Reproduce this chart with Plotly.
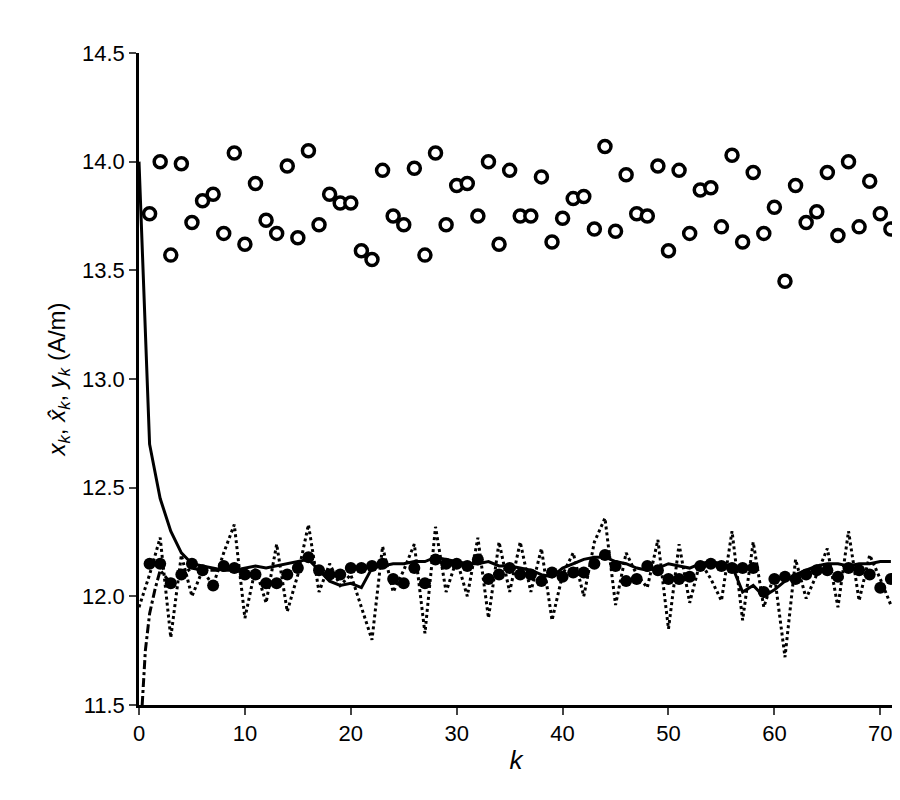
import plotly.graph_objects as go

k = list(range(1, 72))

# open circles: measured x_k (A/m)
x_meas = [13.76, 14.0, 13.57, 13.99, 13.72, 13.82, 13.85, 13.67, 14.04, 13.62,
          13.9, 13.73, 13.67, 13.98, 13.65, 14.05, 13.71, 13.85, 13.81, 13.81,
          13.59, 13.55, 13.96, 13.75, 13.71, 13.97, 13.57, 14.04, 13.71, 13.89,
          13.9, 13.75, 14.0, 13.62, 13.96, 13.75, 13.75, 13.93, 13.63, 13.74,
          13.83, 13.84, 13.69, 14.07, 13.68, 13.94, 13.76, 13.75, 13.98, 13.59,
          13.96, 13.67, 13.87, 13.88, 13.7, 14.03, 13.63, 13.95, 13.67, 13.79,
          13.45, 13.89, 13.72, 13.77, 13.95, 13.66, 14.0, 13.7, 13.91, 13.76, 13.69]

# filled dots
x_dots = [12.15, 12.15, 12.06, 12.1, 12.15, 12.12, 12.05, 12.14, 12.13, 12.1,
          12.1, 12.06, 12.06, 12.1, 12.13, 12.18, 12.12, 12.1, 12.1, 12.13,
          12.13, 12.14, 12.15, 12.08, 12.06, 12.13, 12.06, 12.17, 12.15, 12.15,
          12.14, 12.17, 12.08, 12.1, 12.13, 12.1, 12.1, 12.07, 12.11, 12.09,
          12.11, 12.11, 12.15, 12.19, 12.14, 12.07, 12.08, 12.14, 12.12, 12.08,
          12.08, 12.09, 12.14, 12.15, 12.14, 12.13, 12.13, 12.13, 12.02, 12.08,
          12.09, 12.08, 12.1, 12.12, 12.12, 12.09, 12.13, 12.12, 12.1, 12.04, 12.08]

# dotted line: y_k
k_y = list(range(0, 72))
y_obs = [11.95, 12.1, 12.27, 11.81, 12.19, 12.0, 12.12, 12.05, 12.2, 12.33,
         11.9, 12.13, 11.97, 12.24, 11.93, 12.1, 12.33, 12.02, 12.15, 12.05,
         12.1, 11.95, 11.8, 12.23, 12.02, 12.12, 12.24, 11.83, 12.32, 12.02,
         12.17, 12.0, 12.27, 11.9, 12.25, 12.02, 12.25, 12.02, 12.22, 11.89,
         12.1, 12.2, 12.0, 12.25, 12.36, 11.96, 12.2, 12.1, 12.04, 12.26,
         11.85, 12.24, 11.97, 12.16, 12.08, 11.98, 12.3, 11.89, 12.25, 11.95,
         12.1, 11.72, 12.17, 11.99, 12.1, 12.22, 11.95, 12.3, 11.98, 12.19,
         12.08, 11.96]

# solid line: estimate
k_est = list(range(0, 72))
x_est = [14.0, 12.7, 12.45, 12.3, 12.2, 12.15, 12.14, 12.13, 12.12, 12.12,
         12.13, 12.14, 12.13, 12.14, 12.15, 12.16, 12.17, 12.12, 12.07, 12.05,
         12.06, 12.04, 12.13, 12.14, 12.15, 12.15, 12.16, 12.16, 12.18, 12.17,
         12.16, 12.15, 12.15, 12.16, 12.14, 12.14, 12.13, 12.12, 12.1, 12.09,
         12.13, 12.15, 12.17, 12.18, 12.18, 12.16, 12.15, 12.13, 12.12, 12.13,
         12.15, 12.14, 12.13, 12.15, 12.16, 12.15, 12.14, 12.02, 12.05, 12.0,
         12.03, 12.07, 12.1, 12.12, 12.14, 12.15, 12.15, 12.14, 12.15, 12.15,
         12.16, 12.16]

# dash-dot line: second estimate
k_dd = [0.3, 0.6, 1, 1.5, 2, 3, 4, 5, 6, 7, 8]
x_dd = [11.5, 11.75, 11.92, 12.03, 12.12, 12.06, 12.1, 12.13, 12.12, 12.12, 12.12]

fig = go.Figure()
fig.add_trace(go.Scatter(x=k_y, y=y_obs, mode="lines",
                         line=dict(color="black", width=3, dash="dot")))
fig.add_trace(go.Scatter(x=k_est, y=x_est, mode="lines",
                         line=dict(color="black", width=3)))
fig.add_trace(go.Scatter(x=k_dd, y=x_dd, mode="lines",
                         line=dict(color="black", width=3, dash="dashdot")))
fig.add_trace(go.Scatter(x=k, y=x_dots, mode="markers",
                         marker=dict(color="black", size=12)))
fig.add_trace(go.Scatter(x=k, y=x_meas, mode="markers",
                         marker=dict(color="white", size=12,
                                     line=dict(color="black", width=3.5))))

fig.update_layout(
    width=900, height=800, showlegend=False,
    plot_bgcolor="white", paper_bgcolor="white",
    margin=dict(l=131, r=15, t=45, b=103),
    font=dict(family="Liberation Sans", size=22, color="black"),
)
fig.update_xaxes(range=[0, 71.2], tickvals=[0, 10, 20, 30, 40, 50, 60, 70],
                 showline=True, linecolor="black", linewidth=2.5,
                 ticks="outside", ticklen=7, tickwidth=2, showgrid=False,
                 zeroline=False,
                 title=dict(text="<i>k</i>", standoff=6, font=dict(size=26)))
fig.update_yaxes(range=[11.5, 14.5], tickvals=[11.5, 12, 12.5, 13, 13.5, 14, 14.5],
                 tickformat=".1f",
                 showline=True, linecolor="black", linewidth=2.5,
                 ticks="outside", ticklen=7, tickwidth=2, showgrid=False,
                 zeroline=False,
                 title=dict(text="<i>x<sub>k</sub></i>, <i>x\u0302<sub>k</sub></i>, <i>y<sub>k</sub></i> (A/m)",
                            standoff=10, font=dict(size=24)))

fig.write_html("out.html")
